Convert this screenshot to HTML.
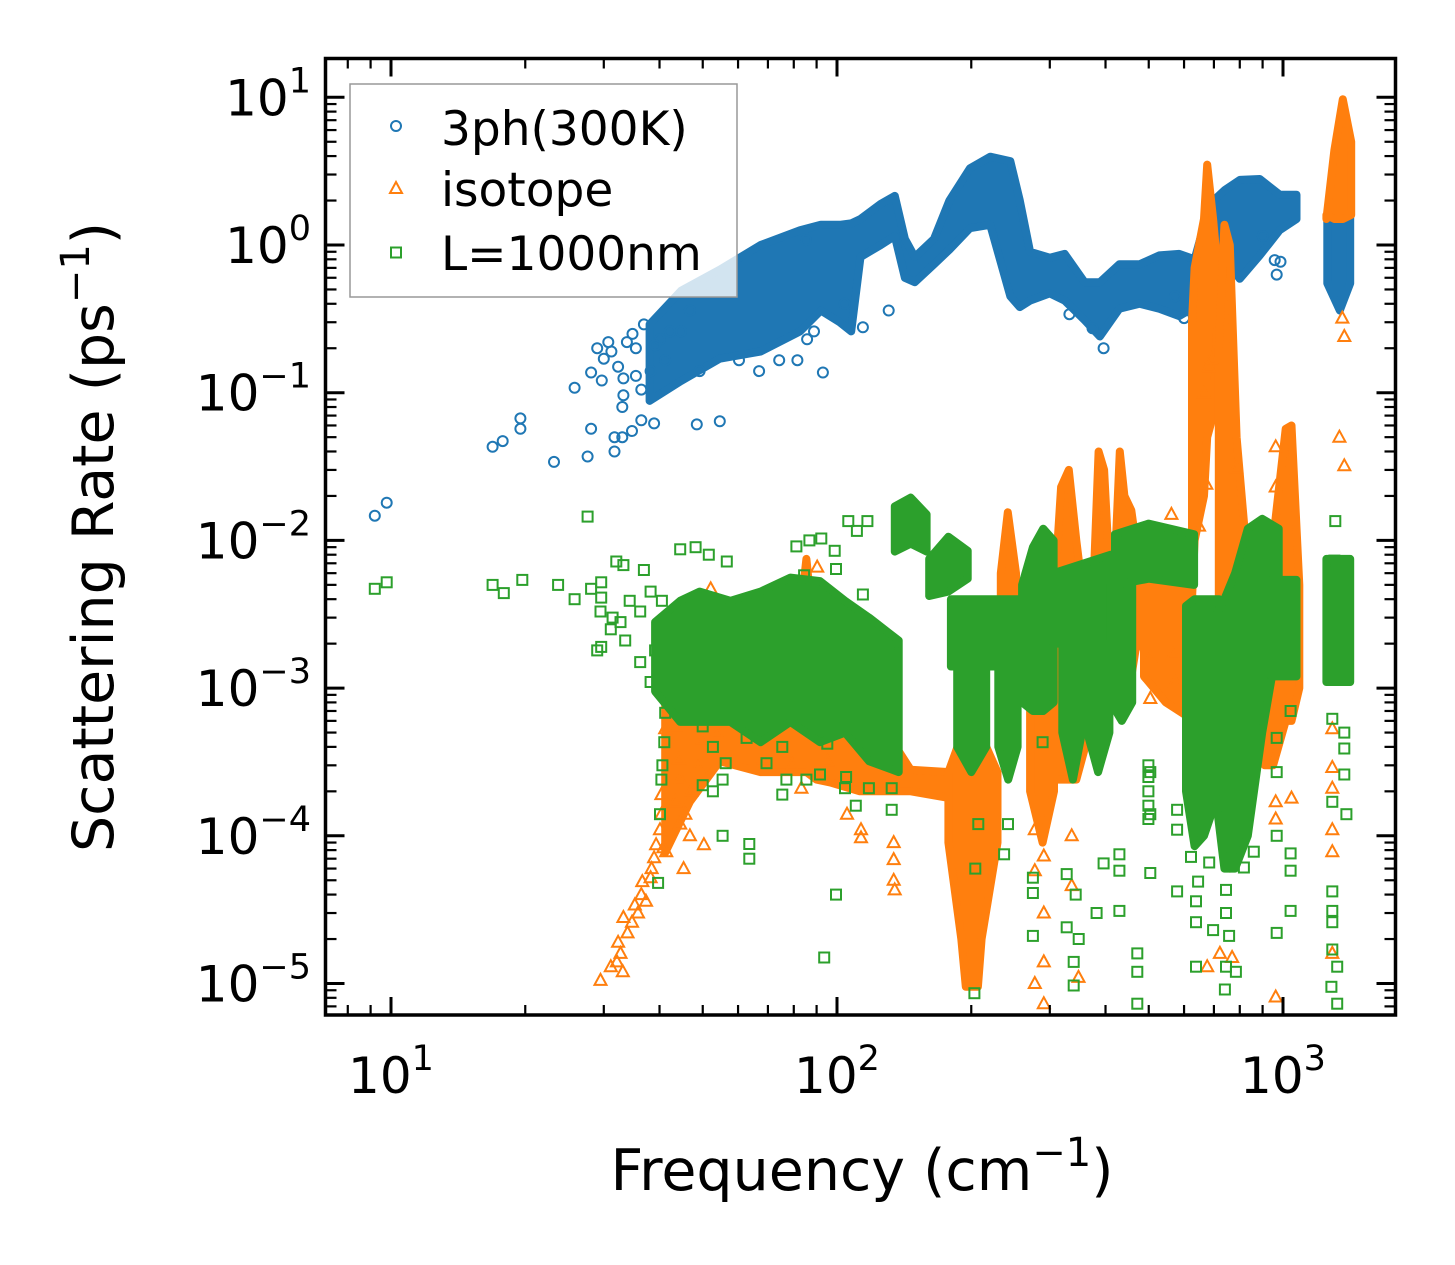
<!DOCTYPE html>
<html><head><meta charset="utf-8"><title>Scattering Rate vs Frequency</title>
<style>
html,body{margin:0;padding:0;background:#fff;}
svg{display:block;font-family:"DejaVu Sans","Liberation Sans",sans-serif;}
</style></head>
<body>
<svg id="chart" width="1455" height="1265" viewBox="0 0 1455 1265" xmlns="http://www.w3.org/2000/svg">
<defs><clipPath id="plotclip"><rect x="327" y="60" width="1067" height="953"/></clipPath></defs>
<rect x="0" y="0" width="1455" height="1265" fill="#fff"/>
<g id="bands" clip-path="url(#plotclip)"></g>
<g id="ticks"></g>
<rect x="325.5" y="58.5" width="1070" height="956.5" fill="none" stroke="#000" stroke-width="3.5"/>
<g id="ticklabels" font-size="50" fill="#000"></g>
<text x="862" y="1190" font-size="57" text-anchor="middle">Frequency (cm<tspan font-size="40" dy="-24">−1</tspan><tspan dy="24">)</tspan></text>
<text transform="translate(113,537) rotate(-90)" font-size="57" text-anchor="middle">Scattering Rate (ps<tspan font-size="40" dy="-24">−1</tspan><tspan dy="24">)</tspan></text>
<g>
<rect x="350" y="84" width="387" height="213" fill="#fff" fill-opacity="0.8" stroke="#999" stroke-width="1.5"/>
<circle cx="396" cy="126" r="5" fill="none" stroke="#1f77b4" stroke-width="2"/>
<text x="441" y="145" font-size="47">3ph(300K)</text>
<path d="M396,182 L402,193 L390,193 Z" fill="none" stroke="#ff7f0e" stroke-width="2"/>
<text x="441" y="206" font-size="47">isotope</text>
<rect x="391" y="247.5" width="10" height="10" fill="none" stroke="#2ca02c" stroke-width="2"/>
<text x="441" y="270" font-size="47">L=1000nm</text>
</g>
</svg>
<script>
// ---------- 3ph(300K) scatter ----------
const blueFreq = [9.2,9.78,16.9,17.8,19.5,19.5,23.2,25.8,27.6,28.1,28.1,29.7,29.0,30.0,31.2,31.7,31.7,33.0,33.0,32.3,33.2,33.2,34.7,36.9,36.4,38.9,48.5,54.6,85.2,93,85.7,50.2,53.6,58.2,40.1,42.2,46.8,44.7,39.1,41.2,38.2,49.2,60.3,66.9,74.2,81.5,88.8,130.6,374,958,987,34.8,35.4,33.8,30.7,36.4,35.4,114.3,104,396,332,600,573,968,901];
const blueRate = [0.0147,0.018,0.043,0.047,0.067,0.057,0.034,0.108,0.037,0.057,0.137,0.121,0.2,0.17,0.19,0.04,0.05,0.05,0.08,0.15,0.125,0.096,0.055,0.29,0.065,0.062,0.061,0.064,1.08,0.137,0.23,0.54,0.5,0.49,0.23,0.26,0.36,0.26,0.21,0.166,0.14,0.14,0.166,0.14,0.166,0.166,0.26,0.36,0.273,0.79,0.77,0.25,0.2,0.22,0.22,0.105,0.13,0.277,0.40,0.2,0.34,0.32,0.45,0.63,1.15];
const blueBandSeg  = [0,0,0,0,0,0,0,0,0,0,0,0,0,0,0,0,0,0,0,0,0,0,0,0,0,0,0,0,0,0,0,0,0,0,0,1,1,1];
const blueBandFreq = [38,44.7,54.6,67.4,82.6,92,101.4,107.6,112.9,125.4,134.8,142,149.4,165,178.7,198.6,220.5,244.7,257,271,300,324,359,388.5,429.5,477,528,585,633.6,686,741,800,887,983,1072,1257,1341,1415];
const blueBandHi   = [0.29,0.49,0.68,1.0,1.26,1.37,1.37,1.4,1.5,1.9,2.15,1.1,0.83,1.1,2.0,3.3,3.96,3.7,2.0,0.9,0.82,0.87,0.56,0.56,0.74,0.74,0.85,0.87,0.8,1.9,2.36,2.76,2.8,2.19,2.19,1.6,1.6,1.6];
const blueBandLo   = [0.088,0.12,0.17,0.19,0.26,0.36,0.3,0.26,0.83,1.0,1.15,0.6,0.56,0.74,0.93,1.3,1.37,0.45,0.38,0.42,0.47,0.42,0.31,0.24,0.37,0.40,0.37,0.33,0.38,0.42,0.8,0.59,0.85,1.26,1.5,0.55,0.36,0.55];

// ---------- isotope scatter ----------
const isoFreq = [113.2,113.2,134,134,134,134.7,105.3,277.7,277.7,290.9,290.9,277.7,290.9,290.9,348,336,336,722,769,676,1045,963,963,963,1290,1290,1290,1290,1290,1290,504,573,567,504,1338,1358,
963,963,785,673,562,562,648,1372,1372,690,665,681,
29.5,31.1,33.1,32.1,32.3,33.9,33.2,35.2,36.4,37.3,36.6,38.4,38.9,41.4,39.3,40.1,45.3,46.8,50.3,44.5,40.4,45.7,43.4,40.4,47.1,48.8,44.5,44.2,44.9,43.4,41.2,47.1,50,53.8,68.4,77,83.2,79.3,95.1,90.3,52.1,34.7,32.7,35.8,38.2,40.8];
const isoRate = [0.00011,0.000097,0.00009,0.000069,0.00005,0.000043,0.00014,0.00011,0.000058,0.00003,0.000014,0.00001,0.0000073,0.000073,0.000011,0.000046,0.0001,0.000016,0.000015,0.000013,0.00018,0.00017,0.00013,0.0000081,0.00029,0.00021,0.00011,0.000078,0.000016,0.00053,0.00085,0.0011,0.0017,0.0016,0.05,0.32,
0.043,0.023,0.031,0.024,0.015,0.011,0.0125,0.24,0.032,0.17,0.099,0.15,
0.0000105,0.000013,0.000012,0.000014,0.000019,0.000022,0.000028,0.000034,0.00004,0.000036,0.000049,0.00006,0.000071,0.000078,0.000087,0.00011,0.00006,0.0001,0.000087,0.00012,0.00014,0.00014,0.00017,0.00019,0.0002,0.00029,0.00024,0.00033,0.00065,0.00055,0.00053,0.00106,0.00045,0.0005,0.00033,0.00036,0.00021,0.0003,0.00032,0.0066,0.0047,0.000026,0.000016,0.00003,0.000052,0.000083];
const isoBandSeg  = [0,0,0,0,0,0,0,0,0,0,0,0,0, 1,1,1,1,1,1, 2,2,2, 3,3,3,3,3, 4,4,4,4, 5,5,5,5,5,5, 6,6,6, 7,7,7,7,7,7, 8,8,8,8,8,8, 9,9,9,9,9, 10,10,10,10, 11,11,11];
const isoBandFreq = [41.2,46.8,54.6,67.4,80.5,85.4,89.9,96.5,112.5,124.8,146.3,178.7,188, 177.7,190,194.4,207,211,229, 233,241.5,252, 306.6,318,331,344,367.5, 376,386,397,409.5, 418,430.5,441,457,467,483, 488,546,633, 625,633.6,665,676,697,713, 718,739,760,787,824,876, 910,950,1014,1045,1088, 1251,1304,1362,1422, 271,289,306.6];
const isoBandHi   = [0.00082,0.0011,0.00095,0.0011,0.0015,0.0075,0.0015,0.0021,0.0018,0.00059,0.00028,0.00027,0.0004, 0.00027,0.00047,0.00047,0.00047,0.00047,0.00027, 0.006,0.0155,0.006, 0.004,0.023,0.03,0.01,0.002, 0.005,0.04,0.03,0.005, 0.005,0.04,0.02,0.016,0.01,0.003, 0.005,0.007,0.004, 0.3,0.7,1.5,3.5,1.5,0.7, 0.2,1.37,1.0,0.05,0.01,0.003, 0.003,0.01,0.057,0.06,0.005, 1.5,4.4,9.7,5, 0.002,0.003,0.002];
const isoBandLo   = [0.000077,0.00017,0.00032,0.00027,0.00027,0.00027,0.00024,0.00023,0.0002,0.0002,0.0002,0.00018,0.0002, 0.00009,0.00002,0.0000095,0.0000095,0.00002,0.00009, 0.0008,0.0008,0.0008, 0.00024,0.00024,0.00024,0.00024,0.0005, 0.0018,0.0015,0.0015,0.0018, 0.0015,0.001,0.001,0.0012,0.0018,0.0024, 0.0012,0.0008,0.0006, 0.004,0.01,0.02,0.05,0.07,0.3, 0.0003,0.00007,0.00006,0.0001,0.0002,0.0003, 0.0003,0.0003,0.0006,0.0006,0.001, 1.6,1.5,1.5,1.6, 0.0002,0.00009,0.0002];

// ---------- L=1000nm scatter ----------
const bndFreq = [9.2,9.78,16.9,17.9,19.7,23.7,25.8,27.6,28.1,29.6,29.6,32,33.2,36.9,44.5,48.2,51.6,56.6,29,29.6,31.1,32.7,41.2,41,40.6,40.4,40.1,39.7,55.4,63.6,63.6,99.5,93.6,99.5,50,52.7,50,52.7,56.3,55.4,62.7,69.5,75.4,77,85.4,91.6,104.8,75.4,95.1,84.4,92.2,81.1,86.7,98.8,106,110.8,117,34.3,36.2,38.2,40.5,29.5,31.4,33.5,36.2,38.2,39.1,
114.3,134.7,104.2,117.9,110.2,132.6,132.6,236.9,204.2,203.3,207.4,241.8,274.9,274.9,274.9,327.4,343,327.4,348.2,339.4,339.4,382,396,429.8,429.8,429.8,471.3,471.3,471.3,504,504,504,578.9,578.9,578.9,622,645,638,638,638,697,683,745,745,757,745,741,784,860,817,968,968,1040,1040,1040,968,968,1290,1372,1372,1372,1290,1387,1290,1290,1290,1323,1284,1323,1290,1310,1304,289,1040,499,499,499,499,499];
const bndRate = [0.0047,0.0052,0.005,0.0044,0.0054,0.005,0.004,0.0145,0.0047,0.0052,0.0041,0.0072,0.0068,0.0063,0.0087,0.009,0.008,0.0072,0.0018,0.0019,0.0025,0.0028,0.00068,0.00043,0.0003,0.00024,0.00014,0.000048,0.0001,0.000088,0.00007,0.00004,0.000015,0.0064,0.00055,0.0004,0.00022,0.0002,0.00031,0.00024,0.00046,0.00031,0.00019,0.00024,0.00024,0.00026,0.00025,0.0004,0.00042,0.0058,0.0103,0.0091,0.01,0.0085,0.0135,0.0116,0.0135,0.0039,0.0033,0.0045,0.0039,0.0033,0.003,0.0021,0.0015,0.0011,0.0018,
0.0043,0.002,0.00021,0.00021,0.00016,0.00021,0.00015,0.000075,0.00006,0.0000086,0.00012,0.00012,0.000052,0.000041,0.000021,0.000055,0.00004,0.000024,0.00002,0.000014,0.0000097,0.00003,0.000065,0.000075,0.000058,0.000031,0.000016,0.000012,0.0000073,0.000056,0.00027,0.00014,0.00015,0.00011,0.000042,0.000072,0.000049,0.000036,0.000026,0.000013,0.000023,0.000066,0.000043,0.00003,0.000021,0.000013,0.0000091,0.000012,0.000078,0.000061,0.0001,0.000022,0.000076,0.000058,0.000031,0.00046,0.00027,0.00062,0.0005,0.00039,0.00026,0.00017,0.00014,0.000042,0.000031,0.000017,0.000013,0.0000095,0.0000073,0.000026,0.0135,0.0073,0.00043,0.0007,0.0003,0.00025,0.0002,0.00016,0.00013];
const bndBandSeg  = [0,0,0,0,0,0,0,0,0,0, 1,1,1, 2,2,2, 3,3, 4,4,4, 5,5,5, 6,6,6,6, 7,7, 8,8,8, 9,9,9, 10,10,10, 11,11,11, 12,12,12,12, 13,13,13,13,13,13, 14,14, 15,15];
const bndBandFreq = [39.1,44.5,49.2,57.7,67.4,78.6,91.6,104.2,118,137.5, 134.8,146.3,158.8, 161,177.7,196.4, 180,256, 186,200,216, 230,242,254, 260,275,290,306, 306,411, 320,338,354, 364,385,408, 411,435,459, 420,500,632, 606,633.6,665,719, 704,739,781,834,898,978, 943,1072, 1251,1415];
const bndBandHi   = [0.0028,0.0039,0.0045,0.0039,0.0045,0.0056,0.0053,0.0039,0.003,0.0021, 0.017,0.0195,0.015, 0.0075,0.0106,0.0085, 0.004,0.004, 0.002,0.002,0.002, 0.002,0.002,0.002, 0.005,0.009,0.012,0.01, 0.006,0.008, 0.002,0.002,0.002, 0.002,0.002,0.002, 0.005,0.005,0.005, 0.011,0.013,0.011, 0.0036,0.004,0.004,0.004, 0.003,0.004,0.006,0.012,0.014,0.012, 0.0054,0.0054, 0.0075,0.0075];
const bndBandLo   = [0.00095,0.00059,0.00059,0.00059,0.00043,0.00059,0.00043,0.0005,0.00032,0.00027, 0.0084,0.0095,0.0084, 0.0042,0.0045,0.0055, 0.0014,0.0014, 0.0004,0.00027,0.0004, 0.0004,0.00024,0.0004, 0.0008,0.0007,0.0007,0.0008, 0.002,0.002, 0.0005,0.00024,0.0005, 0.0005,0.00027,0.0005, 0.0008,0.0006,0.0008, 0.005,0.0055,0.005, 0.0002,0.000085,0.0001,0.0002, 0.0002,0.00006,0.00006,0.0001,0.0005,0.0022, 0.0012,0.0012, 0.0011,0.0011];

// ---------- axes ----------
const xTickVals = [10,100,1000];
const xTickExp  = ['1','2','3'];
const yTickVals = [10,1,0.1,0.01,0.001,0.0001,0.00001];
const yTickExp  = ['1','0','−1','−2','−3','−4','−5'];

const NS = 'http://www.w3.org/2000/svg';
const PL = 325.5, PR = 1395.5, PT = 58.5, PB = 1015;
function xs(f){ return 391 + 446*Math.log10(f/10); }
function ys(v){ return 245 - 147.7*Math.log10(v); }
const bandsG = document.getElementById('bands');
const COL = {blue:'#1f77b4', orange:'#ff7f0e', green:'#2ca02c'};

function drawBands(name, seg, fr, hi, lo, color){
  const g = document.createElementNS(NS,'g');
  
  
  bandsG.appendChild(g);
  const segs = [...new Set(seg)];
  segs.forEach(s => {
    const idx = []; seg.forEach((v,i)=>{ if(v===s && i<fr.length) idx.push(i); });
    const top = idx.map(i => xs(fr[i]).toFixed(1)+','+ys(hi[i]).toFixed(1));
    const bot = idx.slice().reverse().map(i => xs(fr[i]).toFixed(1)+','+ys(lo[i]).toFixed(1));
    const p = document.createElementNS(NS,'polygon');
    
    
    p.setAttribute('points', top.concat(bot).join(' '));
    p.setAttribute('fill', color);
    p.setAttribute('stroke', color);
    p.setAttribute('stroke-width', '8');
    p.setAttribute('stroke-linejoin', 'round');
    g.appendChild(p);
  });
}
function drawPoints(name, fr, rt, shape, color){
  const g = document.createElementNS(NS,'g');
  
  
  bandsG.appendChild(g);
  const n = Math.min(fr.length, rt.length);
  for(let i=0;i<n;i++){
    const x = xs(fr[i]), y = ys(rt[i]);
    let el;
    if(shape==='circle'){
      el = document.createElementNS(NS,'circle');
      el.setAttribute('cx', x.toFixed(1)); el.setAttribute('cy', y.toFixed(1)); el.setAttribute('r','5');
    } else if(shape==='square'){
      el = document.createElementNS(NS,'rect');
      el.setAttribute('x',(x-5).toFixed(1)); el.setAttribute('y',(y-5).toFixed(1));
      el.setAttribute('width','10'); el.setAttribute('height','10');
    } else {
      el = document.createElementNS(NS,'path');
      el.setAttribute('d','M'+x.toFixed(1)+','+(y-6.5).toFixed(1)+' L'+(x+6).toFixed(1)+','+(y+4.5).toFixed(1)+' L'+(x-6).toFixed(1)+','+(y+4.5).toFixed(1)+' Z');
    }
    
    
    el.setAttribute('fill','none');
    el.setAttribute('stroke', color);
    el.setAttribute('stroke-width','2');
    g.appendChild(el);
  }
}
drawBands('3ph', blueBandSeg, blueBandFreq, blueBandHi, blueBandLo, COL.blue);
drawPoints('3ph', blueFreq, blueRate, 'circle', COL.blue);
drawBands('isotope', isoBandSeg, isoBandFreq, isoBandHi, isoBandLo, COL.orange);
drawPoints('isotope', isoFreq, isoRate, 'triangle', COL.orange);
drawBands('boundary', bndBandSeg, bndBandFreq, bndBandHi, bndBandLo, COL.green);
drawPoints('boundary', bndFreq, bndRate, 'square', COL.green);

// ticks
const tg = document.getElementById('ticks');
function tick(x1,y1,x2,y2,w,nm){
  const l = document.createElementNS(NS,'line');
  
  
  l.setAttribute('x1',x1); l.setAttribute('y1',y1); l.setAttribute('x2',x2); l.setAttribute('y2',y2);
  l.setAttribute('stroke','#000'); l.setAttribute('stroke-width',w);
  tg.appendChild(l);
}
for(let d=0; d<=3; d++){
  for(let m=1; m<=9; m++){
    const f = m*Math.pow(10,d);
    const x = xs(f);
    if(x<PL+1 || x>PR-1) continue;
    const maj = (m===1);
    const L = maj?18:10, w = maj?3:2.2;
    tick(x,PB,x,PB-L,w, maj?'x-major-tick':'x-minor-tick');
    tick(x,PT,x,PT+L,w, maj?'x-major-tick':'x-minor-tick');
  }
}
for(let d=-6; d<=1; d++){
  for(let m=1; m<=9; m++){
    const v = m*Math.pow(10,d);
    const y = ys(v);
    if(y<PT+1 || y>PB-1) continue;
    const maj = (m===1);
    const L = maj?19:11, w = maj?3:2.2;
    tick(PL,y,PL+L,y,w, maj?'y-major-tick':'y-minor-tick');
    tick(PR,y,PR-L,y,w, maj?'y-major-tick':'y-minor-tick');
  }
}
// tick labels
const lg = document.getElementById('ticklabels');
xTickVals.forEach((v,i)=>{
  const t = document.createElementNS(NS,'text');
  
  
  t.setAttribute('x', xs(v).toFixed(1)); t.setAttribute('y','1093');
  t.setAttribute('text-anchor','middle');
  t.innerHTML = '10<tspan font-size="35" dy="-23">'+xTickExp[i]+'</tspan>';
  lg.appendChild(t);
});
yTickVals.forEach((v,i)=>{
  const t = document.createElementNS(NS,'text');
  
  
  t.setAttribute('x','311'); t.setAttribute('y',(ys(v)+18).toFixed(1));
  t.setAttribute('text-anchor','end');
  t.innerHTML = '10<tspan font-size="35" dy="-23">'+yTickExp[i]+'</tspan>';
  lg.appendChild(t);
});
</script>
</body></html>
